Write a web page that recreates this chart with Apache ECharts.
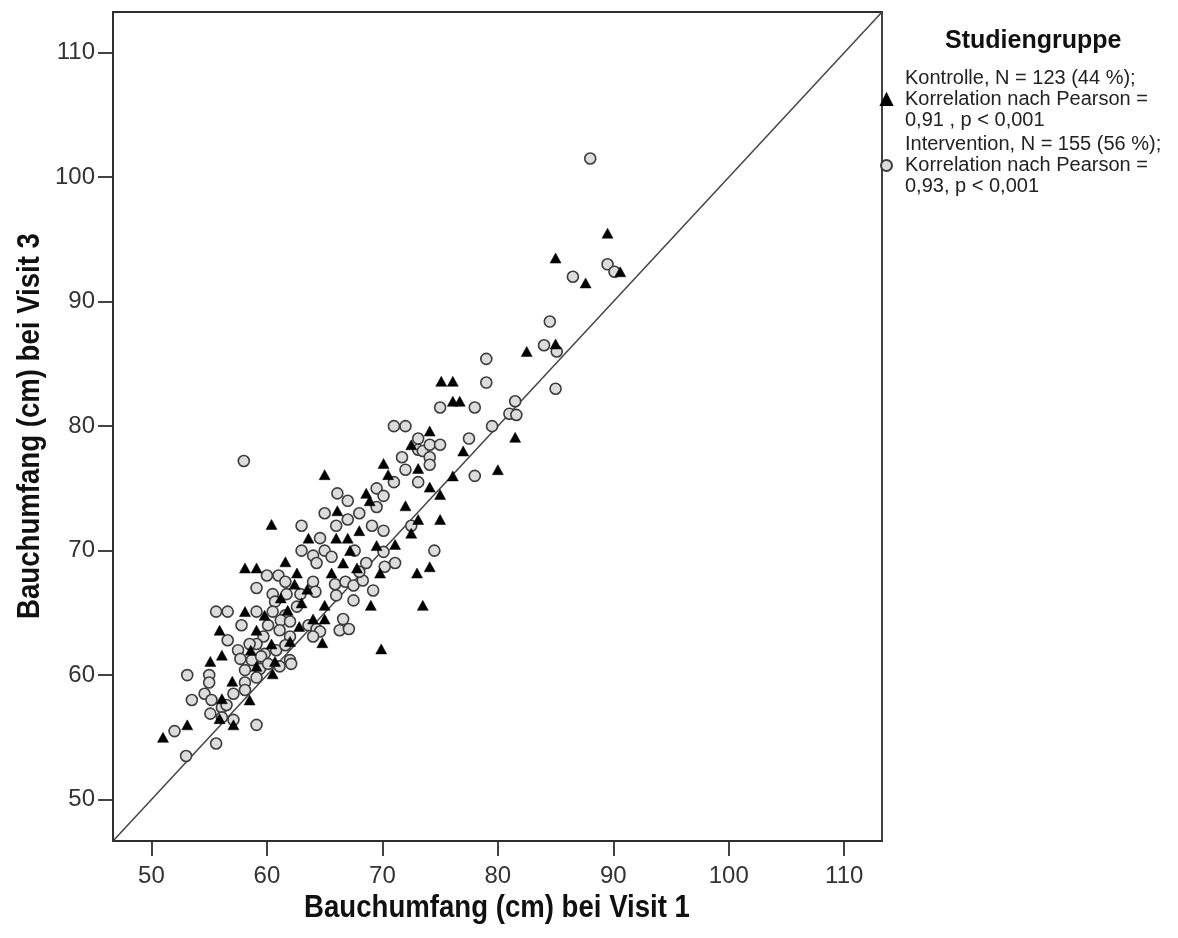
<!DOCTYPE html>
<html>
<head>
<meta charset="utf-8">
<script src="https://cdn.jsdelivr.net/npm/echarts@6/dist/echarts.min.js"></script>
<style>
html,body{margin:0;padding:0;background:#fff;}
#chart{width:1178px;height:938px;}
</style>
</head>
<body>
<div id="chart"></div>
<script>
// ---- data ----
const axisRange = [46.67, 113.27];
const xTicks = [50, 60, 70, 80, 90, 100, 110];
const yTicks = [50, 60, 70, 80, 90, 100, 110];
const xTitle = 'Bauchumfang (cm) bei Visit 1';
const yTitle = 'Bauchumfang (cm) bei Visit 3';
const legendTitle = 'Studiengruppe';
const groupNames = ['Kontrolle', 'Intervention'];
const kontrolleLabel = ['Kontrolle, N = 123 (44 %);', 'Korrelation nach Pearson =', '0,91 , p < 0,001'];
const interventionLabel = ['Intervention, N = 155 (56 %);', 'Korrelation nach Pearson =', '0,93, p < 0,001'];

const kontrolle = [
 [89.5,95.5],[85.0,93.5],[90.6,92.4],[87.6,91.5],[85.0,86.6],[82.5,86.0],
 [75.1,83.6],[76.1,83.6],[76.1,82.0],[76.7,82.0],[81.5,79.1],[74.1,79.6],[72.5,78.5],[77.0,78.0],
 [73.1,76.6],[80.0,76.5],[76.1,76.0],[74.1,75.1],[75.0,74.5],[72.0,73.6],[73.1,72.5],[75.0,72.5],[72.5,71.4],
 [65.0,76.1],[70.1,77.0],[70.5,76.1],[68.6,74.6],[68.9,74.0],[66.1,73.2],[68.0,71.6],[63.6,71.0],[66.0,71.0],
 [67.0,71.0],[69.5,70.4],[71.1,70.5],[67.2,70.0],[61.6,69.1],[66.6,69.0],[74.1,68.7],[73.0,68.2],[73.5,65.6],
 [69.0,65.6],[69.9,62.1],[60.4,72.1],[58.1,68.6],[59.1,68.6],[62.6,68.2],[62.4,67.3],[63.5,66.9],[65.6,68.2],
 [65.0,65.6],[58.1,65.1],[61.8,65.2],[59.8,64.8],[64.0,64.5],[65.0,64.5],[55.9,63.6],[59.1,63.6],[60.4,62.5],
 [62.0,62.7],[56.1,61.6],[60.7,61.1],[55.1,61.1],[59.1,60.7],[60.5,60.1],[56.1,58.1],[58.5,58.0],[55.9,56.5],
 [57.1,56.0],[53.1,56.0],[51.0,55.0],
 [63.0,65.8],[61.2,66.2],[62.8,63.9],[58.6,62.0],[57.0,59.5],[67.8,68.6],[64.8,62.6],[69.8,68.2]
];

const intervention = [
 [88.0,101.5],[89.5,93.0],[90.1,92.4],[86.5,92.0],[84.5,88.4],[84.0,86.5],[85.1,86.0],[79.0,85.4],[79.0,83.5],
 [85.0,83.0],[75.0,81.5],[78.0,81.5],[81.5,82.0],[81.0,81.0],[81.6,80.9],[79.5,80.0],[72.0,80.0],[71.0,80.0],
 [73.1,79.0],[77.5,79.0],[73.1,78.1],[73.5,78.0],[74.1,78.5],[75.0,78.5],[74.1,77.5],[74.1,76.9],[71.7,77.5],
 [72.0,76.5],[78.0,76.0],[73.1,75.5],[72.5,72.0],[74.5,70.0],
 [71.0,75.5],[66.1,74.6],[67.0,74.0],[69.5,75.0],[70.1,74.4],[69.5,73.5],[65.0,73.0],[67.0,72.5],[68.0,73.0],
 [66.0,72.0],[69.1,72.0],[70.1,71.6],[63.0,72.0],[64.6,71.0],[63.0,70.0],[64.0,69.6],[65.0,70.0],[65.6,69.5],
 [67.6,70.0],[70.1,69.9],[64.3,69.0],[68.6,69.0],[71.1,69.0],[70.2,68.7],
 [60.0,68.0],[61.0,68.0],[61.6,67.5],[59.1,67.0],[60.5,66.5],[61.7,66.5],[62.9,66.5],[64.0,67.5],[64.2,66.7],
 [65.9,67.3],[66.8,67.5],[67.5,67.2],[67.5,66.0],[66.0,66.4],[55.6,65.1],[56.6,65.1],[59.1,65.1],[60.7,65.9],
 [60.5,65.1],[62.6,65.5],[61.6,64.8],[61.2,64.4],[62.0,64.3],[63.6,64.0],[64.3,63.7],[64.6,63.5],[66.6,64.5],
 [57.8,64.0],[60.1,64.0],[61.1,63.6],[62.0,63.1],[64.0,63.1],[59.7,63.1],[59.1,62.5],[56.6,62.8],[57.5,62.0],
 [58.5,62.5],[57.7,61.3],[58.7,61.2],[59.7,61.2],[59.8,61.7],[60.8,62.0],[61.6,62.4],[62.0,61.2],[59.4,60.5],
 [61.1,60.7],[62.1,60.9],[58.1,60.4],[58.1,59.4],[59.1,59.8],[59.5,61.5],[60.1,60.9],[53.1,60.0],[55.0,60.0],
 [55.0,59.4],[54.6,58.5],[55.2,58.0],[53.5,58.0],[57.1,58.5],[56.1,57.4],[56.5,57.6],[58.1,58.8],[55.1,56.9],
 [56.1,56.6],[57.1,56.4],[59.1,56.0],[52.0,55.5],[55.6,54.5],[53.0,53.5],[58.0,77.2],[66.3,63.6],[67.1,63.7],
 [68.3,67.6],[69.2,66.8],[68.0,68.3]
];

// ---- chart ----
const chart = echarts.init(document.getElementById('chart'), null, {renderer: 'canvas'});
const labelFont = "'Liberation Sans', Arial, sans-serif";
const lineColor = '#2e2e2e';

function axisCommon(ticks) {
  return {
    type: 'value',
    min: axisRange[0],
    max: axisRange[1],
    axisLine: {show: true, lineStyle: {color: lineColor, width: 1.8}},
    axisTick: {show: true, length: 15, inside: false, customValues: ticks, lineStyle: {color: lineColor, width: 1.8}},
    axisLabel: {customValues: ticks, fontFamily: labelFont, fontSize: 24, color: '#333'},
    splitLine: {show: false}
  };
}

const xAxis = axisCommon(xTicks);
xAxis.axisLabel.margin = 23;
const yAxis = axisCommon(yTicks);
yAxis.axisLabel.margin = 18;

const titleStyle = {
  fontFamily: labelFont, fontWeight: 'bold', fontSize: 31, fill: '#111',
  align: 'center', verticalAlign: 'middle', textAlign: 'center', textVerticalAlign: 'middle'
};

const option = {
  animation: false,
  backgroundColor: '#fff',
  title: {
    text: legendTitle,
    left: 940, top: 24,
    textStyle: {fontFamily: labelFont, fontWeight: 'bold', fontSize: 25, color: '#111'}
  },
  legend: {
    orient: 'vertical',
    left: 875, top: 63,
    itemWidth: 11, itemHeight: 11,
    itemGap: 3,
    selectedMode: false,
    data: [{name: groupNames[0], icon: 'triangle'}, {name: groupNames[1], icon: 'circle'}],
    formatter: function (n) { return (n === groupNames[0] ? kontrolleLabel : interventionLabel).join('\n'); },
    textStyle: {fontFamily: labelFont, fontSize: 20, lineHeight: 21, color: '#222', padding: [0, 0, 0, 8]}
  },
  graphic: [
    {type: 'text', x: 497, y: 908, scaleX: 0.89, silent: true,
     style: Object.assign({text: xTitle}, titleStyle)},
    {type: 'text', x: 30, y: 426, rotation: Math.PI / 2, scaleX: 0.89, silent: true,
     style: Object.assign({text: yTitle}, titleStyle)}
  ],
  grid: {
    left: 113, top: 12, right: 296, bottom: 97,
    show: true, borderColor: lineColor, borderWidth: 1.8, backgroundColor: '#fff'
  },
  xAxis: xAxis,
  yAxis: yAxis,
  series: [
    {
      name: 'diag', type: 'line', silent: true, symbol: 'none', z: 1,
      data: [[axisRange[0], axisRange[0]], [axisRange[1], axisRange[1]]],
      lineStyle: {color: '#444', width: 1.5}
    },
    {
      name: groupNames[0], type: 'scatter', symbol: 'triangle', symbolSize: [11, 10], z: 3,
      data: kontrolle,
      itemStyle: {color: '#000', borderColor: '#000', borderWidth: 0.5, opacity: 1}
    },
    {
      name: groupNames[1], type: 'scatter', symbol: 'circle', symbolSize: 11, z: 2,
      data: intervention,
      itemStyle: {color: '#dcdcdc', borderColor: '#3c3c3c', borderWidth: 1.6, opacity: 1}
    }
  ]
};
chart.setOption(option);
</script>
</body>
</html>
